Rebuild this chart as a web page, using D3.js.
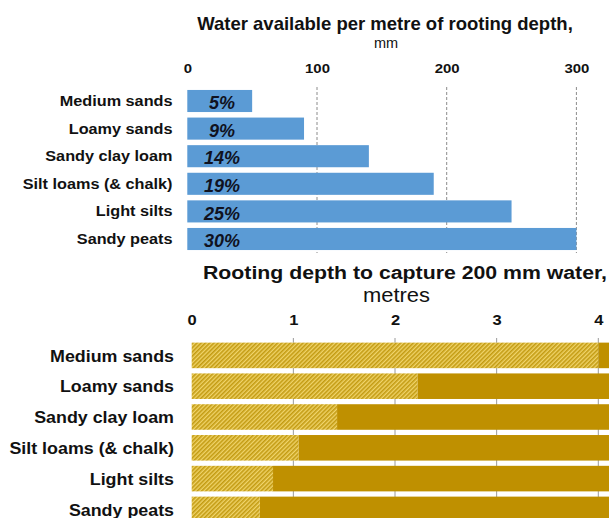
<!DOCTYPE html>
<html>
<head>
<meta charset="utf-8">
<script src="https://cdn.jsdelivr.net/npm/d3@7"></script>
<style>
  body { margin: 0; background: #fff; }
  svg { display: block; font-family: "Liberation Sans", Arial, sans-serif; }
</style>
</head>
<body>
<div class="root"></div>
<script>
// Soil types, top to bottom
var soils = ["Medium sands", "Loamy sands", "Sandy clay loam", "Silt loams (& chalk)", "Light silts", "Sandy peats"];

// Top chart: water available per metre of rooting depth (mm)
var waterMm = [50, 90, 140, 190, 250, 300];
var waterPct = ["5%", "9%", "14%", "19%", "25%", "30%"];
var waterTicks = [0, 100, 200, 300];

// Bottom chart: rooting depth needed for 200 mm of water (m)
var depthM = [4.0, 2.22, 1.43, 1.05, 0.80, 0.67];
var depthTicks = [0, 1, 2, 3, 4];
var depthEnd = 4.6; // solid part runs off the right edge

var W = 609, H = 518;

var svg = d3.select(".root").append("svg")
    .attr("width", W)
    .attr("height", H);

// the source text is a little wider than Arial, so stretch it sideways
function stretch(sel, sx) {
  sel.each(function () {
    var t = d3.select(this);
    var x = +t.attr("x") || 0, y = +t.attr("y") || 0;
    t.attr("transform", "translate(" + x + "," + y + ") scale(" + sx + ",1)")
      .attr("x", 0).attr("y", 0);
  });
}

// hatch for the bottom bars
var defs = svg.append("defs");
var pat = defs.append("pattern")
    .attr("id", "hatch")
    .attr("patternUnits", "userSpaceOnUse")
    .attr("width", 3)
    .attr("height", 3)
    .attr("patternTransform", "rotate(45)");
pat.append("rect").attr("width", 3).attr("height", 3).attr("fill", "#f0d46a");
pat.append("rect").attr("width", 1.6).attr("height", 3).attr("fill", "#c39b12");

// ---------- top chart ----------
var x1 = d3.scaleLinear().domain([0, 300]).range([187.3, 576.4]);
var y1 = d3.scaleBand().domain(soils).range([87.2, 252.8])
    .paddingInner(0.2).paddingOuter(0.1);

svg.append("text")
    .attr("x", 385).attr("y", 29.5)
    .attr("text-anchor", "middle")
    .attr("font-size", 18.5).attr("font-weight", 700)
    .attr("fill", "#111")
    .text("Water available per metre of rooting depth,");
svg.append("text")
    .attr("x", 386).attr("y", 48)
    .attr("text-anchor", "middle")
    .attr("font-size", 14.5)
    .attr("fill", "#111")
    .text("mm");

// dashed gridlines
svg.append("g").selectAll("line")
    .data(waterTicks.filter(function (d) { return d > 0; }))
    .join("line")
    .attr("x1", function (d) { return x1(d); })
    .attr("x2", function (d) { return x1(d); })
    .attr("y1", 87).attr("y2", 253)
    .attr("stroke", "#8c8c8c")
    .attr("stroke-width", 1)
    .attr("stroke-dasharray", "3,2");

var ax1 = svg.append("g")
    .attr("transform", "translate(0,75)")
    .call(d3.axisTop(x1).tickValues(waterTicks).tickSize(0).tickPadding(2));
ax1.select(".domain").remove();
ax1.selectAll("text")
    .attr("font-size", 13).attr("font-weight", 700)
    .attr("font-family", "Liberation Sans, Arial, sans-serif")
    .attr("fill", "#111")
    .call(stretch, 1.15);

svg.append("g").selectAll("rect")
    .data(soils)
    .join("rect")
    .attr("x", x1(0))
    .attr("y", function (d) { return y1(d); })
    .attr("width", function (d, i) { return x1(waterMm[i]) - x1(0); })
    .attr("height", y1.bandwidth())
    .attr("fill", "#5b9bd5");

svg.append("g").selectAll("text")
    .data(soils)
    .join("text")
    .attr("x", 222)
    .attr("y", function (d) { return y1(d) + y1.bandwidth() / 2; })
    .attr("dy", "0.45em")
    .attr("text-anchor", "middle")
    .attr("font-size", 18).attr("font-weight", 700).attr("font-style", "italic")
    .attr("fill", "#10121f")
    .text(function (d, i) { return waterPct[i]; });

svg.append("g").selectAll("text")
    .data(soils)
    .join("text")
    .attr("x", 172.5)
    .attr("y", function (d) { return y1(d) + y1.bandwidth() / 2; })
    .attr("dy", "0.36em")
    .attr("text-anchor", "end")
    .attr("font-size", 14).attr("font-weight", 700)
    .attr("fill", "#111")
    .text(function (d) { return d; })
    .call(stretch, 1.16);

// ---------- bottom chart ----------
var x2 = d3.scaleLinear().domain([0, 4]).range([191.7, 598.3]);
var y2 = d3.scaleBand().domain(soils).range([340, 524.8])
    .paddingInner(0.17).paddingOuter(0.085);

svg.append("text")
    .attr("x", 405).attr("y", 279)
    .attr("text-anchor", "middle")
    .attr("font-size", 18.5).attr("font-weight", 700)
    .attr("fill", "#111")
    .text("Rooting depth to capture 200 mm water,")
    .call(stretch, 1.15);
svg.append("text")
    .attr("x", 396.5).attr("y", 301.5)
    .attr("text-anchor", "middle")
    .attr("font-size", 20.5)
    .attr("fill", "#111")
    .text("metres")
    .call(stretch, 1.07);

var ax2 = svg.append("g")
    .attr("transform", "translate(0,327)")
    .call(d3.axisTop(x2).tickValues(depthTicks).tickFormat(d3.format("d"))
      .tickSize(0).tickPadding(2));
ax2.select(".domain").remove();
ax2.selectAll("text")
    .attr("font-size", 15).attr("font-weight", 700)
    .attr("font-family", "Liberation Sans, Arial, sans-serif")
    .attr("fill", "#111")
    .call(stretch, 1.1);

// gridlines behind the bars (only show in the gaps)
svg.append("g").selectAll("line")
    .data(depthTicks.filter(function (d) { return d > 0; }))
    .join("line")
    .attr("x1", function (d) { return x2(d); })
    .attr("x2", function (d) { return x2(d); })
    .attr("y1", 338).attr("y2", H)
    .attr("stroke", "#9a9a9a")
    .attr("stroke-width", 1);

// solid part
svg.append("g").selectAll("rect")
    .data(soils)
    .join("rect")
    .attr("x", function (d, i) { return x2(depthM[i]); })
    .attr("y", function (d) { return y2(d); })
    .attr("width", function (d, i) { return x2(depthEnd) - x2(depthM[i]); })
    .attr("height", y2.bandwidth())
    .attr("fill", "#bf9000");

// hatched part
svg.append("g").selectAll("rect")
    .data(soils)
    .join("rect")
    .attr("x", x2(0))
    .attr("y", function (d) { return y2(d); })
    .attr("width", function (d, i) { return x2(depthM[i]) - x2(0); })
    .attr("height", y2.bandwidth())
    .attr("fill", "url(#hatch)");

svg.append("g").selectAll("text")
    .data(soils)
    .join("text")
    .attr("x", 174)
    .attr("y", function (d) { return y2(d) + y2.bandwidth() / 2; })
    .attr("dy", "0.36em")
    .attr("text-anchor", "end")
    .attr("font-size", 17).attr("font-weight", 700)
    .attr("fill", "#111")
    .text(function (d) { return d; })
    .call(stretch, 1.05);
</script>
</body>
</html>
